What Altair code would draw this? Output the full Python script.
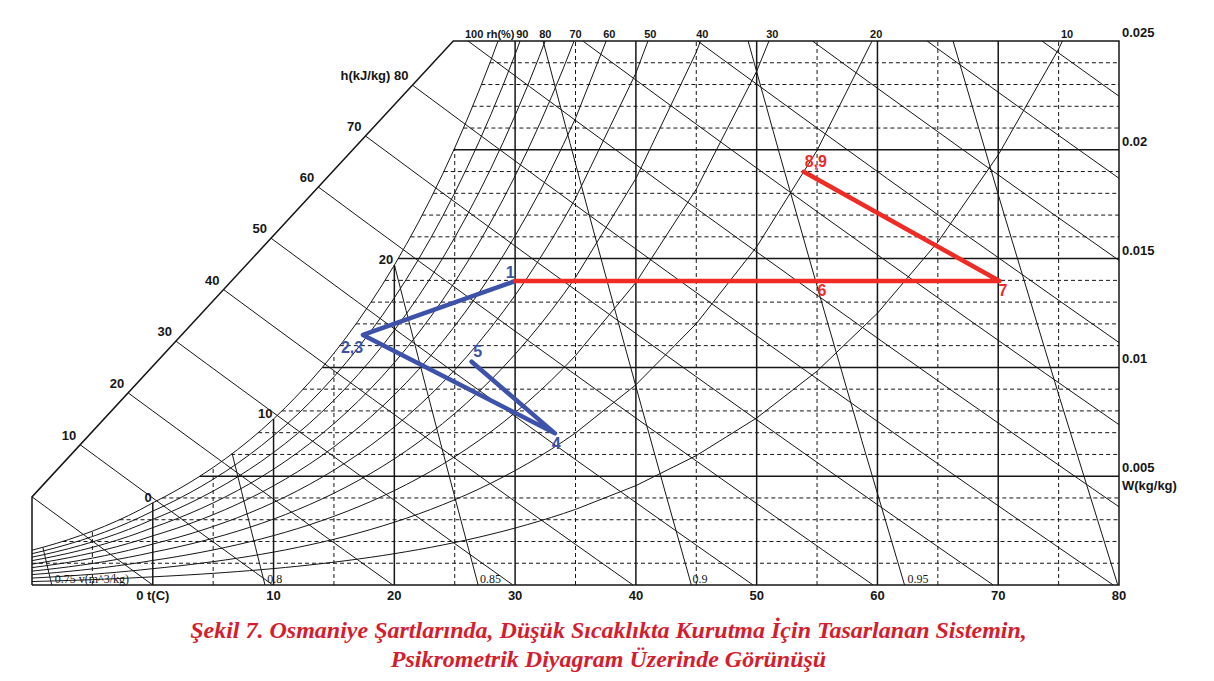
import altair as alt
import numpy as np
import pandas as pd

P_ATM = 101.325  # kPa

# saturation vapour pressure table (kPa) used by the chart
SAT_T = list(range(-10, 36)) + [40, 45, 50, 55, 60, 65, 70, 75, 80]
SAT_P = [0.2599, 0.2839, 0.3100, 0.3382, 0.3687, 0.4017, 0.4375, 0.4760, 0.5177, 0.5626,
         0.6112, 0.6571, 0.7060, 0.7581, 0.8135, 0.8726, 0.9354, 1.0021, 1.0730, 1.1482,
         1.2282, 1.3129, 1.4028, 1.4981, 1.5989, 1.7057, 1.8188, 1.9383, 2.0647, 2.1982,
         2.3392, 2.4881, 2.6452, 2.8109, 2.9856, 3.1697, 3.3637, 3.5679, 3.7828, 4.0089,
         4.2467, 4.4966, 4.7592, 5.0351, 5.3247, 5.6286,
         7.3844, 9.5944, 12.351, 15.761, 19.946, 25.041, 31.201, 38.595, 47.415]

RH_LEVELS = [10, 20, 30, 40, 50, 60, 70, 80, 90, 100]
RH_LABEL_T = [75.7, 59.9, 51.3, 45.5, 41.2, 37.8, 35.0, 32.5, 30.6, 27.9]
RH_LABEL_TEXT = ["10", "20", "30", "40", "50", "60", "70", "80", "90", "100 rh(%)"]

H_LEVELS = [0, 10, 20, 30, 40, 50, 60, 70, 80, 90, 100, 110, 120, 130, 140]
H_LABELS = [10, 20, 30, 40, 50, 60, 70, 80]

V_LEVELS = [0.75, 0.80, 0.85, 0.90, 0.95, 1.00]
V_LABEL_T = [-8.2, 9.4, 27.0, 44.6, 62.4]
V_LABEL_TEXT = ["0.75 v(m^3/kg)", "0.8", "0.85", "0.9", "0.95"]

SAT_LABEL_T = [0, 10, 20]

T_TICKS = [0, 10, 20, 30, 40, 50, 60, 70, 80]
T_TICK_TEXT = ["0 t(C)", "10", "20", "30", "40", "50", "60", "70", "80"]
W_TICKS = [0.005, 0.01, 0.015, 0.02, 0.025]
W_TICK_TEXT = ["0.005", "0.01", "0.015", "0.02", "0.025"]

GRID_T_SOLID = [0, 10, 20, 30, 40, 50, 60, 70]
GRID_T_DASH = [-5, 5, 15, 25, 35, 45, 55, 65, 75]
GRID_W_SOLID = [0.005, 0.010, 0.015, 0.020]
GRID_W_DASH = [0.001, 0.002, 0.003, 0.004, 0.006, 0.007, 0.008, 0.009,
               0.011, 0.012, 0.013, 0.014, 0.016, 0.017, 0.018, 0.019,
               0.021, 0.022, 0.023, 0.024]

# chart frame (bottom-left, left, slanted enthalpy edge, top, right)
FRAME_T = [-10, -10, 24.88, 80, 80, -10]
FRAME_W = [0.0, 0.00405, 0.025, 0.025, 0.0, 0.0]

# process states
RED_T = [30.0, 70.1, 53.9]
RED_W = [0.01397, 0.01397, 0.01899]
BLUE_T = [30.0, 17.4, 33.3, 26.4]
BLUE_W = [0.01397, 0.01149, 0.00697, 0.01026]

RED_LABEL = ["6", "7", "8,9"]
RED_LABEL_T = [55.4, 70.4, 54.9]
RED_LABEL_W = [0.01349, 0.01349, 0.01942]
BLUE_LABEL = ["1", "2,3", "4", "5"]
BLUE_LABEL_T = [29.6, 16.5, 33.4, 26.9]
BLUE_LABEL_W = [0.01434, 0.01089, 0.00648, 0.01071]

TITLE = ["Şekil 7. Osmaniye Şartlarında, Düşük Sıcaklıkta Kurutma İçin Tasarlanan Sistemin,",
         "Psikrometrik Diyagram Üzerinde Görünüşü"]

T_MIN, T_MAX, W_MAX = -10, 80, 0.025
RED = "#ee2b25"
BLUE = "#3d52a8"
INK = "#161616"

sat_T = np.array(SAT_T, float)
sat_p = np.array(SAT_P, float)


def hum_ratio(p):
    return 0.622 * p / (P_ATM - p)


sat_W = hum_ratio(sat_p)


def w_sat(t):
    return np.interp(t, sat_T, sat_W)


def t_sat(w):
    return np.interp(w, sat_W, sat_T)


def add(rows, cid, ts, ws):
    for i, (t, w) in enumerate(zip(ts, ws)):
        rows.append({"id": cid, "ord": i, "T": float(t), "W": float(w)})


curve_rows = []
# relative humidity curves (100 = saturation)
for rh in RH_LEVELS:
    w = hum_ratio(rh / 100.0 * sat_p)
    over = np.nonzero(w > W_MAX)[0]
    n = over[0] if len(over) else len(w) - 1
    add(curve_rows, f"rh{rh}", sat_T[: n + 1], w[: n + 1])


# enthalpy lines, starting on the slanted left edge
def h_line_w(h, t):
    return (h - 1.006 * t) / (2501.0 + 1.86 * t)


def diag_w(t):
    return FRAME_W[1] + (t - FRAME_T[1]) * (FRAME_W[2] - FRAME_W[1]) / (FRAME_T[2] - FRAME_T[1])


h_start = {}
for h in H_LEVELS:
    lo, hi = -10.0, 80.0
    for _ in range(60):
        mid = (lo + hi) / 2
        if h_line_w(h, mid) > diag_w(mid):
            lo = mid
        else:
            hi = mid
    t0, t1 = lo, h / 1.006
    h_start[h] = (t0, h_line_w(h, t0))
    ts = np.linspace(t0, t1, 12)
    add(curve_rows, f"h{h}", ts, h_line_w(h, ts))


# specific volume lines, starting on the saturation curve
def v_line_t(v, w):
    return v * P_ATM / (0.287 * (1 + 1.6078 * w)) - 273.15


for v in V_LEVELS:
    lo, hi = 0.0, 0.06
    for _ in range(60):
        mid = (lo + hi) / 2
        if w_sat(v_line_t(v, mid)) > mid:
            lo = mid
        else:
            hi = mid
    ws = np.linspace(lo, 0.0, 8)
    add(curve_rows, f"v{v}", v_line_t(v, ws), ws)

curves = pd.DataFrame(curve_rows)

# grid
solid_rows, dash_rows = [], []
for t in GRID_T_SOLID:
    add(solid_rows, f"t{t}", [t, t], [0.0, min(w_sat(t), W_MAX)])
for t in GRID_T_DASH:
    add(dash_rows, f"t{t}", [t, t], [0.0, min(w_sat(t), W_MAX)])
for w in GRID_W_SOLID:
    add(solid_rows, f"w{w}", [max(t_sat(w), T_MIN), T_MAX], [w, w])
for w in GRID_W_DASH:
    add(dash_rows, f"w{w}", [max(t_sat(w), T_MIN), T_MAX], [w, w])
grid_solid = pd.DataFrame(solid_rows)
grid_dash = pd.DataFrame(dash_rows)

frame_rows = []
add(frame_rows, "frame", FRAME_T, FRAME_W)
frame = pd.DataFrame(frame_rows)

red_rows, blue_rows = [], []
add(red_rows, "red", RED_T, RED_W)
add(blue_rows, "blue", BLUE_T, BLUE_W)
red_df = pd.DataFrame(red_rows)
blue_df = pd.DataFrame(blue_rows)

xs = alt.Scale(domain=[T_MIN, T_MAX], nice=False, zero=False)
ys = alt.Scale(domain=[0, W_MAX], nice=False, zero=False)
X = alt.X("T:Q", scale=xs, axis=None)
Y = alt.Y("W:Q", scale=ys, axis=None)


def lines(df, clip, **kw):
    return alt.Chart(df).mark_line(clip=clip, **kw).encode(
        x=X, y=Y, detail="id:N", order=alt.Order("ord:Q"))


layer_dash = lines(grid_dash, False, color=INK, strokeWidth=1, strokeDash=[4, 3])
layer_solid = lines(grid_solid, False, color=INK, strokeWidth=1.5)
layer_curves = lines(curves, True, color=INK, strokeWidth=1)
layer_frame = lines(frame, False, color=INK, strokeWidth=1.5)
layer_blue = lines(blue_df, False, color=BLUE, strokeWidth=4.5, strokeCap="round", strokeJoin="round")
layer_red = lines(red_df, False, color=RED, strokeWidth=4.5, strokeCap="round", strokeJoin="round")

SANS = "Liberation Sans"
SERIF = "Liberation Serif"


def text_layer(df, **kw):
    return alt.Chart(df).mark_text(**kw).encode(x=X, y=Y, text="label:N")


rh_lab = pd.DataFrame({"T": RH_LABEL_T, "W": [W_MAX] * len(RH_LABEL_T), "label": RH_LABEL_TEXT})
h_lab = pd.DataFrame({
    "T": [h_start[h][0] for h in H_LABELS],
    "W": [h_start[h][1] for h in H_LABELS],
    "label": [("h(kJ/kg) " if h == 80 else "") + str(h) for h in H_LABELS],
})
sat_lab = pd.DataFrame({"T": SAT_LABEL_T, "W": [float(w_sat(t)) for t in SAT_LABEL_T],
                        "label": [str(t) for t in SAT_LABEL_T]})
v_lab = pd.DataFrame({"T": V_LABEL_T, "W": [0.0] * len(V_LABEL_T), "label": V_LABEL_TEXT})
t_lab = pd.DataFrame({"T": T_TICKS, "W": [0.0] * len(T_TICKS), "label": T_TICK_TEXT})
w_lab = pd.DataFrame({"T": [T_MAX] * len(W_TICKS), "W": W_TICKS, "label": W_TICK_TEXT})
wunit_lab = pd.DataFrame({"T": [T_MAX], "W": [0.005], "label": ["W(kg/kg)"]})
red_lab = pd.DataFrame({"T": RED_LABEL_T, "W": RED_LABEL_W, "label": RED_LABEL})
blue_lab = pd.DataFrame({"T": BLUE_LABEL_T, "W": BLUE_LABEL_W, "label": BLUE_LABEL})

texts = [
    text_layer(rh_lab, font=SANS, fontSize=11, fontWeight="bold", color=INK,
               align="center", baseline="alphabetic", dy=-3),
    text_layer(h_lab, font=SANS, fontSize=13, fontWeight="bold", color=INK,
               align="right", baseline="alphabetic", dx=-4, dy=-5),
    text_layer(sat_lab, font=SANS, fontSize=13, fontWeight="bold", color=INK,
               align="right", baseline="alphabetic", dx=-1, dy=-1),
    text_layer(v_lab, font=SERIF, fontSize=12, color=INK,
               align="left", baseline="alphabetic", dx=1, dy=-2),
    text_layer(t_lab, font=SANS, fontSize=13, fontWeight="bold", color=INK,
               align="center", baseline="alphabetic", dy=15),
    text_layer(w_lab, font=SANS, fontSize=13, fontWeight="bold", color=INK,
               align="left", baseline="alphabetic", dx=3, dy=-4),
    text_layer(wunit_lab, font=SANS, fontSize=13, fontWeight="bold", color=INK,
               align="left", baseline="alphabetic", dx=3, dy=14),
    text_layer(red_lab, font=SANS, fontSize=16, fontWeight="bold", color=RED,
               align="center", baseline="middle"),
    text_layer(blue_lab, font=SANS, fontSize=16, fontWeight="bold", color=BLUE,
               align="center", baseline="middle"),
]

chart = alt.layer(
    layer_dash, layer_solid, layer_curves, layer_frame, layer_blue, layer_red, *texts
).properties(
    width=1087,
    height=544,
    padding={"left": 24, "top": 33, "right": 85, "bottom": 88},
    autosize=alt.AutoSizeParams(type="none"),
    title=alt.TitleParams(
        text=TITLE, orient="bottom", anchor="middle", frame="group", dx=33, offset=16,
        font=SERIF, fontSize=24, fontStyle="italic", fontWeight="bold",
        color="#d51d2e", lineHeight=29,
    ),
).configure_view(stroke=None)

chart.save("out.html", embed_options={"renderer": "svg", "actions": False})
